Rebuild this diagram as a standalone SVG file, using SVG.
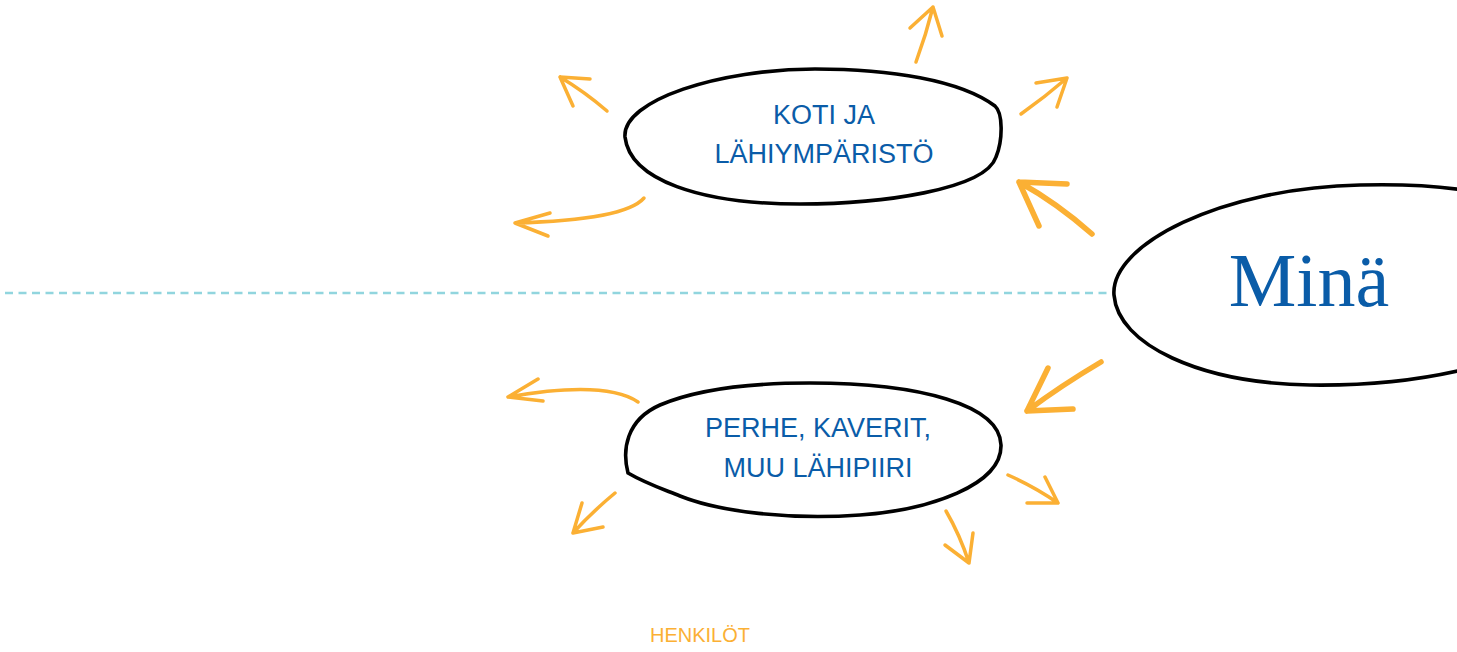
<svg xmlns="http://www.w3.org/2000/svg" width="1457" height="652" viewBox="0 0 1457 652">
<style>
.blob{fill:#ffffff;stroke:#000000;stroke-width:3.6;stroke-linejoin:round}
.lbl{font-family:"Liberation Sans",Arial,sans-serif;font-size:27px;fill:#0a5ca8;text-anchor:middle}
.arr{fill:none;stroke:#fbb034;stroke-width:3.5;stroke-linecap:round;stroke-linejoin:round}
.big{stroke-width:5.5}
</style>
<rect width="1457" height="652" fill="#ffffff"/>
<g id="divider">
<line x1="5" y1="293" x2="1112" y2="293" stroke="#91d5de" stroke-width="2.5" stroke-dasharray="8 5.5"/>
</g>
<g id="connectors">
<path class="arr" d="M607 111 Q585 92 560 77 M560 77 L590 79 M560 77 L573 106"/>
<path class="arr" d="M644 198 Q625 220 515 223 M515 223 L550 213 M515 223 L548 236"/>
<path class="arr" d="M916 62 Q926 35 933 7 M933 7 L910 28 M933 7 L942 36"/>
<path class="arr" d="M1021 114 Q1045 97 1067 78 M1067 78 L1036 83 M1067 78 L1057 107"/>
<path class="arr big" d="M1092 234 Q1057 203 1019 182 M1019 182 L1067 184 M1019 182 L1039 226"/>
<path class="arr big" d="M1101 362 Q1062 385 1027 411 M1027 411 L1048 368 M1027 411 L1073 409"/>
<path class="arr" d="M638 402 Q605 380 508 397 M508 397 L538 379 M508 397 L543 401"/>
<path class="arr" d="M615 493 Q592 512 573 533 M573 533 L582 503 M573 533 L603 527"/>
<path class="arr" d="M946 511 Q960 535 969 563 M969 563 L945 545 M969 563 L973 533"/>
<path class="arr" d="M1008 475 Q1035 487 1058 503 M1058 503 L1027 503 M1058 503 L1045 477"/>
</g>
<g id="node-koti">
<path class="blob" d="M625 137 C622 100 720 69 815 69 C890 69 960 80 995 106 C1003 113 1003 140 996 157 C985 190 880 204 800 204 C700 204 630 180 625 137 Z"/>
<text class="lbl" x="824" y="124">KOTI JA</text>
<text class="lbl" x="824" y="163">LÄHIYMPÄRISTÖ</text>
</g>
<g id="node-perhe">
<path class="blob" d="M628 473 C622 450 626 420 660 405 C700 388 760 383 810 383 C920 383 1000 405 1001 445 C1002 485 930 510 860 515 C790 520 720 512 680 496 C660 488 645 483 628 473 Z"/>
<text class="lbl" x="818" y="437">PERHE, KAVERIT,</text>
<text class="lbl" x="818" y="477">MUU LÄHIPIIRI</text>
</g>
<g id="node-mina">
<path class="blob" d="M1114 295 C1110 245 1220 188 1360 185 C1400 184 1440 186 1470 191 L1470 368 C1430 378 1380 386 1310 385 C1200 383 1118 345 1114 295 Z"/>
<text x="1309" y="306" font-family="'Liberation Serif','Times New Roman',serif" font-size="76" fill="#0a5ca8" text-anchor="middle">Minä</text>
</g>
<g id="legend">
<text x="700" y="642" font-family="'Liberation Sans',Arial,sans-serif" font-size="20" fill="#fbb034" text-anchor="middle">HENKILÖT</text>
</g>
</svg>
